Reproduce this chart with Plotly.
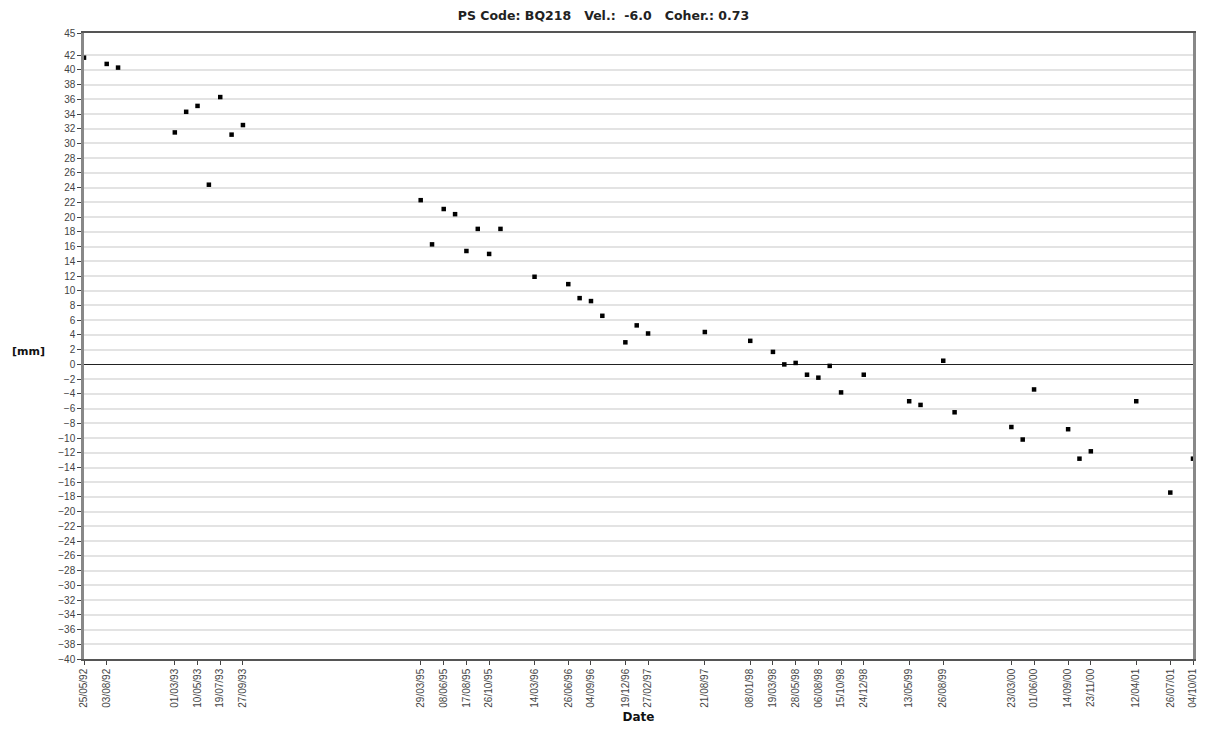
import plotly.graph_objects as go

dates = [
    "1992-05-25", "1992-08-03", "1992-09-07",
    "1993-03-01", "1993-04-05", "1993-05-10", "1993-06-14", "1993-07-19", "1993-08-23", "1993-09-27",
    "1995-03-29", "1995-05-03", "1995-06-08", "1995-07-13", "1995-08-17", "1995-09-21", "1995-10-26", "1995-11-30",
    "1996-03-14", "1996-06-26", "1996-07-31", "1996-09-04", "1996-10-09", "1996-12-19",
    "1997-01-23", "1997-02-27", "1997-08-21",
    "1998-01-08", "1998-03-19", "1998-04-23", "1998-05-28", "1998-07-02", "1998-08-06", "1998-09-10", "1998-10-15", "1998-12-24",
    "1999-05-13", "1999-06-17", "1999-08-26", "1999-09-30",
    "2000-03-23", "2000-04-27", "2000-06-01", "2000-09-14", "2000-10-19", "2000-11-23",
    "2001-04-12", "2001-07-26", "2001-10-04",
]
displacement_mm = [
    41.65, 40.8, 40.3,
    31.5, 34.3, 35.1, 24.4, 36.3, 31.2, 32.5,
    22.3, 16.3, 21.1, 20.4, 15.4, 18.4, 15.0, 18.4,
    11.9, 10.9, 9.0, 8.6, 6.6, 3.0,
    5.3, 4.2, 4.4,
    3.2, 1.7, 0.0, 0.2, -1.4, -1.8, -0.2, -3.8, -1.4,
    -5.0, -5.5, 0.5, -6.5,
    -8.5, -10.2, -3.4, -8.8, -12.8, -11.8,
    -5.0, -17.4, -12.8,
]

tick_dates = [
    "1992-05-25", "1992-08-03", "1993-03-01", "1993-05-10", "1993-07-19", "1993-09-27",
    "1995-03-29", "1995-06-08", "1995-08-17", "1995-10-26", "1996-03-14", "1996-06-26",
    "1996-09-04", "1996-12-19", "1997-02-27", "1997-08-21", "1998-01-08", "1998-03-19",
    "1998-05-28", "1998-08-06", "1998-10-15", "1998-12-24", "1999-05-13", "1999-08-26",
    "2000-03-23", "2000-06-01", "2000-09-14", "2000-11-23", "2001-04-12", "2001-07-26",
    "2001-10-04",
]
tick_labels = [
    "25/05/92", "03/08/92", "01/03/93", "10/05/93", "19/07/93", "27/09/93",
    "29/03/95", "08/06/95", "17/08/95", "26/10/95", "14/03/96", "26/06/96",
    "04/09/96", "19/12/96", "27/02/97", "21/08/97", "08/01/98", "19/03/98",
    "28/05/98", "06/08/98", "15/10/98", "24/12/98", "13/05/99", "26/08/99",
    "23/03/00", "01/06/00", "14/09/00", "23/11/00", "12/04/01", "26/07/01",
    "04/10/01",
]
y_ticks = list(range(-40, 43, 2)) + [45]
title_text = "PS Code: BQ218&nbsp;&nbsp;&nbsp;Vel.:&nbsp;&nbsp;-6.0&nbsp;&nbsp;&nbsp;Coher.: 0.73"

fig = go.Figure()
fig.add_trace(go.Scatter(
    x=dates, y=displacement_mm, mode="markers",
    marker=dict(symbol="square", size=4.5, color="black"),
    cliponaxis=False, showlegend=False,
))

font_family = "Liberation Sans, Arial, sans-serif"
bold_family = "DejaVu Sans, Verdana, sans-serif"
fig.update_layout(
    width=1207, height=731,
    margin=dict(l=84, r=14, t=33, b=72, autoexpand=False),
    paper_bgcolor="white", plot_bgcolor="white",
    font=dict(family=font_family, size=10, color="#333"),
    title=dict(text="<b>" + title_text + "</b>", x=0.5, xref="container", xanchor="center",
               y=1 - 16 / 731, yref="container", yanchor="middle",
               font=dict(size=12.5, color="#222", family=bold_family)),
    xaxis=dict(
        type="date", range=[dates[0], dates[-1]], automargin=False,
        tickmode="array", tickvals=tick_dates, ticktext=tick_labels,
        tickangle=-90, tickfont=dict(size=10, color="#444"),
        ticks="outside", ticklen=4, tickcolor="#444",
        showgrid=False, showline=True, linecolor="#555", linewidth=1.5, mirror=True,
        title=dict(text="<b>Date</b>", font=dict(size=12, color="#111", family=bold_family),
                   standoff=6),
    ),
    yaxis=dict(
        range=[-40, 45], tickmode="array", tickvals=y_ticks, automargin=False,
        tickfont=dict(size=10, color="#444"),
        ticks="outside", ticklen=4, tickcolor="#444",
        showgrid=True, gridcolor="#e3e3e3", gridwidth=2,
        zeroline=True, zerolinecolor="#222", zerolinewidth=1,
        showline=True, linecolor="#888", linewidth=2.5, mirror=True,
    ),
)
fig.add_annotation(text="<b>[mm]</b>", xref="paper", yref="paper", x=-0.0667, y=0.492,
                   xanchor="left", yanchor="middle", showarrow=False,
                   font=dict(size=11, color="#111", family=bold_family))

fig.write_html("out.html", config={"displayModeBar": False},
               post_script="document.body.style.margin='0';document.body.style.overflow='hidden';")
